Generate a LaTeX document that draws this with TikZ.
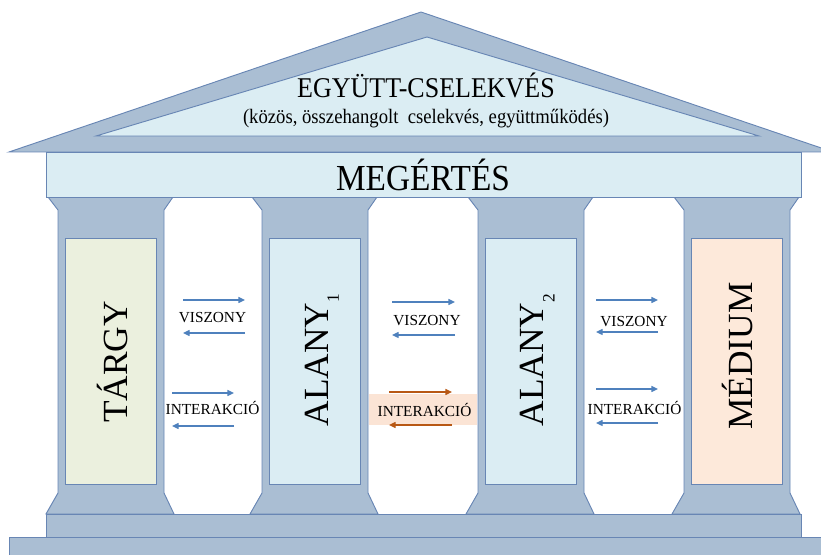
\documentclass[tikz,border=0pt]{standalone}
\usepackage{graphicx}
\usepackage{fontspec}
\setmainfont{Liberation Serif}
\usetikzlibrary{arrows.meta}

\definecolor{stone}{RGB}{170,190,211}
\definecolor{edgeblue}{RGB}{104,134,180}
\definecolor{sky}{RGB}{219,237,243}
\definecolor{sage}{RGB}{235,240,222}
\definecolor{peach}{RGB}{253,233,218}
\definecolor{peachbg}{RGB}{251,228,213}
\definecolor{arrowblue}{RGB}{79,129,189}
\definecolor{rust}{RGB}{184,88,20}

\tikzset{
  stonepart/.style={draw=edgeblue, fill=stone, line width=0.7pt},
  panel/.style={draw=edgeblue, line width=0.7pt},
  roofline/.style={anchor=base, inner sep=0pt},
  pillarlbl/.style={rotate=90, inner sep=0pt, font=\fontsize{26.5}{28}\selectfont},
  lbl/.style={inner sep=0pt, font=\fontsize{11.5}{12}\selectfont},
  relarrow/.style={-{Triangle[length=5pt, width=4.5pt]}, line width=1pt}
}

% slightly tall lettering, as in the roof texts
\newcommand{\tallword}[1]{\scalebox{1}[1.1]{#1}}
% lowered index after a pillar name
\newcommand{\pillaridx}[1]{\raisebox{-8pt}{\fontsize{13}{13}\selectfont #1}}

% two opposite arrows with a label between them
% #1 name, #2 left x, #3 right x, #4 label x, #5 upper y, #6 label y, #7 lower y, #8 text, #9 colour
\newcommand{\relpair}[9]{%
  \coordinate (#1-a) at (#2,#5);
  \coordinate (#1-b) at (#3,#5);
  \coordinate (#1-c) at (#3,#7);
  \coordinate (#1-d) at (#2,#7);
  \node[lbl] (#1-lbl) at (#4,#6) {#8};
  \draw[relarrow, #9] (#1-a) -- (#1-b);
  \draw[relarrow, #9] (#1-c) -- (#1-d);
}

\begin{document}
\begin{tikzpicture}[x=0.75pt, y=-0.75pt]
\useasboundingbox (0,0) rectangle (821,555);
\clip (0,0) rectangle (821,555);

% the two steps at the bottom
\draw[stonepart] (9,537) rectangle (840,565);
\draw[stonepart] (46,514) rectangle (801,537);

% four pillars: capital, shaft and foot
\foreach \l/\r in {58/164, 262/368, 478/584, 684/790}{
  \draw[stonepart] (\l-10,197) -- (\l,210) -- (\l,493) -- (\l-12,514)
    -- (\r+10,514) -- (\r,493) -- (\r,210) -- (\r+9,197) -- cycle;
}

% coloured panels on the pillars
\draw[panel, fill=sage] (65.5,238) rectangle (156,484);
\draw[panel, fill=sky] (269.5,238) rectangle (360,484);
\draw[panel, fill=sky] (485.5,238) rectangle (576,484);
\draw[panel, fill=peach] (691.5,238) rectangle (782,484);

% roof with its inner gable
\draw[stonepart] (9,152) -- (421,12) -- (833,152) -- cycle;
\draw[panel, fill=sky] (96,136) -- (427,37) -- (759,136) -- cycle;

% beam under the roof
\draw[panel, fill=sky] (46,152) rectangle (801,197);

% texts of roof and beam
\node[roofline, font=\fontsize{19.5}{20}\selectfont] (together) at (426,97.5) {\tallword{EGYÜTT-CSELEKVÉS}};
\node[roofline, font=\fontsize{14}{15}\selectfont] (together-sub) at (426,124) {\tallword{(közös, összehangolt\ \ cselekvés, együttműködés)}};
\node[roofline, font=\fontsize{25}{26}\selectfont] (understanding) at (423,191) {\tallword{MEGÉRTÉS}};

% pillar names
\node[pillarlbl] (object) at (112.5,362) {TÁRGY};
\node[pillarlbl] (subject1) at (322,360) {ALANY\pillaridx{1}};
\node[pillarlbl] (subject2) at (537.5,360) {ALANY\pillaridx{2}};
\node[pillarlbl] (medium) at (737.5,356) {MÉDIUM};

% highlight behind the middle interaction
\fill[peachbg] (369,394) rectangle (477,425);

% relations between the pillars
\relpair{rel1}{183}{245}{212.5}{300}{318}{333}{VISZONY}{arrowblue}
\relpair{int1}{172}{234}{212.5}{393}{408}{426}{INTERAKCIÓ}{arrowblue}
\relpair{rel2}{392}{455}{427}{302}{321}{335}{VISZONY}{arrowblue}
\relpair{int2}{389}{452}{424.5}{392}{410}{425}{INTERAKCIÓ}{rust}
\relpair{rel3}{596}{658}{634}{300}{322}{332}{VISZONY}{arrowblue}
\relpair{int3}{596}{658}{634.5}{389}{408}{423}{INTERAKCIÓ}{arrowblue}

\end{tikzpicture}
\end{document}
